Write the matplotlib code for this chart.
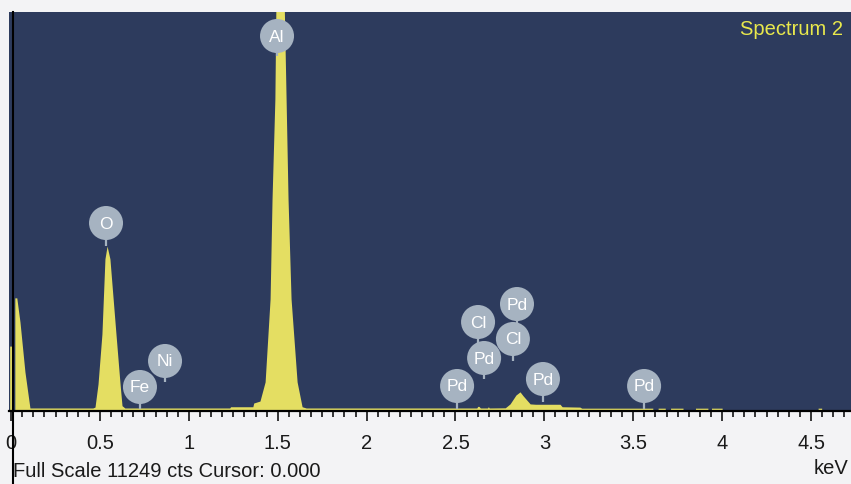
"""EDS spectrum (Spectrum 2): counts vs energy with element line markers."""

import matplotlib
matplotlib.use("Agg")
import matplotlib.pyplot as plt
from matplotlib.ticker import MultipleLocator, FixedLocator, FixedFormatter

plt.rcParams["font.family"] = ["Liberation Sans", "DejaVu Sans"]

# --------------------------------------------------------------------------- #
# Data
# --------------------------------------------------------------------------- #
FULL_SCALE = 11249          # counts at the top of the display
CURSOR_KEV = 0.0125

# spectrum outline (keV, counts); repeated energies give sharp steps
energy_kev = [
    -0.008, -0.008, 0.006, 0.006, 0.021, 0.021, 0.032, 0.050, 0.078, 0.106,
    0.46, 0.472, 0.489, 0.511, 0.528, 0.540, 0.556, 0.590, 0.613, 0.624, 0.64,
    1.23, 1.235, 1.36, 1.365, 1.40, 1.429, 1.457, 1.468, 1.484, 1.490, 1.500,
    1.525, 1.536, 1.547, 1.558, 1.575, 1.609, 1.637, 1.66,
    2.62, 2.625, 2.632, 2.64, 2.68, 2.685, 2.69, 2.78,
    2.807, 2.84, 2.863, 2.88, 2.92, 2.95, 3.088, 3.10, 3.20, 3.21,
    3.61, 3.61, 3.64, 3.64, 3.68, 3.68, 3.71, 3.71, 3.78, 3.78,
    3.85, 3.85, 3.92, 3.92, 3.94, 3.94, 4.00, 4.00,
    4.54, 4.54, 4.56, 4.56, 4.73,
]
counts = [
    0, 1830, 1830, 0, 0, 3190, 3190, 2510, 1100, 85,
    85, 110, 760, 2170, 4290, 4650, 4290, 2170, 760, 150, 85,
    85, 120, 120, 225, 280, 820, 3160, 5980, 8800, 11600, 12800,
    12800, 11600, 8800, 5980, 3160, 820, 120, 85,
    85, 130, 130, 85, 85, 120, 85, 90,
    200, 450, 540, 430, 200, 190, 190, 120, 110, 80,
    80, 0, 0, 80, 80, 0, 0, 80, 80, 0,
    0, 80, 80, 0, 0, 80, 80, 0,
    0, 80, 80, 0, 0,
]

# element markers: symbol, line energy (keV), stem tip (counts), badge centre (counts)
elements = ["O", "Fe", "Ni", "Al", "Pd", "Cl", "Pd", "Pd", "Cl", "Pd", "Pd"]
element_kev = [0.534, 0.725, 0.866, 1.496, 2.509, 2.627, 2.661, 2.846, 2.823, 2.992, 3.561]
stem_tip = [4650, 56, 818, 10000, 56, 1889, 902, 2453, 1410, 254, 56]
badge_y = [5300, 677, 1410, 10572, 705, 2509, 1494, 3016, 2030, 902, 705]

ticks_kev = [0, 0.5, 1, 1.5, 2, 2.5, 3, 3.5, 4, 4.5]
tick_labels = ["0", "0.5", "1", "1.5", "2", "2.5", "3", "3.5", "4", "4.5"]

# --------------------------------------------------------------------------- #
# Plot
# --------------------------------------------------------------------------- #
NAVY = "#2d3b5d"
YELLOW = "#e4de62"
BADGE = "#a6b3c1"
PAPER = "#f3f3f5"

fig = plt.figure(figsize=(8.51, 4.85), dpi=100, facecolor=PAPER)
ax = fig.add_axes([9 / 851, 1 - 412 / 485, 842 / 851, 399 / 485])
ax.set_facecolor(NAVY)

ax.fill_between(energy_kev, counts, 0, color=YELLOW, lw=0, zorder=2)

# badges: stem first, then the disc with its symbol
for sym, e, tip, by in zip(elements, element_kev, stem_tip, badge_y):
    ax.plot([e, e], [tip, by], color=BADGE, lw=1.6, zorder=3, solid_capstyle="butt")
    ax.scatter([e], [by], s=600, color=BADGE, edgecolors="none", zorder=4)
    ax.text(e, by, sym, color="white", fontsize=12.5, ha="center", va="center",
            zorder=5)

ax.set_xlim(-0.0118, 4.725)
ax.set_ylim(0, FULL_SCALE)

for side in ("left", "right", "top"):
    ax.spines[side].set_visible(False)
ax.spines["bottom"].set_color("black")
ax.spines["bottom"].set_linewidth(1.6)

ax.xaxis.set_major_locator(FixedLocator(ticks_kev))
ax.xaxis.set_major_formatter(FixedFormatter(tick_labels))
ax.xaxis.set_minor_locator(MultipleLocator(0.0625))
ax.tick_params(axis="x", which="major", direction="out", length=7.5, width=1.1,
               pad=8.5, labelsize=14.5, colors="black", labelcolor="#1a1a1a")
ax.tick_params(axis="x", which="minor", direction="out", length=4.5, width=1.1,
               colors="black")
ax.set_yticks([])

# cursor line at 0 keV runs through the footer as well
ax.axvline(CURSOR_KEV, ymin=-0.19, ymax=1, color="black", lw=1.5,
           clip_on=False, zorder=6)

ax.text(0.99, 0.958, "Spectrum 2", transform=ax.transAxes, color="#e8e84c",
        fontsize=14.5, ha="right", va="center")

fig.text(13 / 851, 1 - 472 / 485, "Full Scale 11249 cts Cursor: 0.000",
         fontsize=14.5, color="#1a1a1a", ha="left", va="center")
fig.text(848 / 851, 1 - 469 / 485, "keV", fontsize=14.5, color="#1a1a1a",
         ha="right", va="center")

fig.savefig("out.png", dpi=100, facecolor=PAPER)
